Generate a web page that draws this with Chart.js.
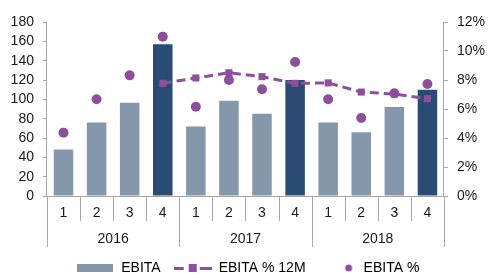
<!DOCTYPE html>
<html>
<head>
<meta charset="utf-8">
<script src="https://cdn.jsdelivr.net/npm/chart.js@4/dist/chart.umd.min.js"></script>
<style>
  html, body { margin: 0; padding: 0; background: #fff; }
  #wrap { width: 489px; height: 274px; }
</style>
</head>
<body>
<div id="wrap"><canvas id="chart"></canvas></div>
<script>
  // ---- data ---------------------------------------------------------------
  const QUARTERS = ["1", "2", "3", "4", "1", "2", "3", "4", "1", "2", "3", "4"];
  const YEARS = ["2016", "2017", "2018"];
  const EBITA = [48, 76, 96.5, 157, 72, 98.5, 85, 120, 76, 66, 92, 110];
  const EBITA_PCT_12M = [null, null, null, 7.77, 8.14, 8.5, 8.23, 7.77, 7.8, 7.17, 7.03, 6.71];
  const EBITA_PCT = [4.37, 6.67, 8.32, 10.99, 6.16, 8.0, 7.36, 9.24, 6.67, 5.38, 7.08, 7.72];
  const LEFT_TICKS = [0, 20, 40, 60, 80, 100, 120, 140, 160, 180];
  const RIGHT_TICKS = [0, 2, 4, 6, 8, 10, 12];

  const BAR_LIGHT = "#8597ab";
  const BAR_DARK = "#294b74";
  const PURPLE = "#8d4f9c";
  const AXIS = "#a6a6a6";
  const FONT = "'Liberation Sans', Arial, sans-serif";

  // Q4 bars are dark
  const barColors = QUARTERS.map((q) => (q === "4" ? BAR_DARK : BAR_LIGHT));

  // ---- legend swatches ------------------------------------------------------
  function swatch(w, h, draw) {
    const c = document.createElement("canvas");
    c.width = w;
    c.height = h;
    draw(c.getContext("2d"));
    return c;
  }
  const swBar = swatch(36, 8, (g) => {
    g.fillStyle = BAR_LIGHT;
    g.fillRect(0, 0, 36, 8);
  });
  const swLine = swatch(38, 8, (g) => {
    g.fillStyle = PURPLE;
    g.fillRect(0, 3, 10, 3);
    g.fillRect(15, 0, 8, 8);
    g.fillRect(26, 3, 12, 3);
  });
  const swDot = swatch(38, 8, (g) => {
    g.fillStyle = PURPLE;
    g.beginPath();
    g.arc(30, 4, 3.5, 0, Math.PI * 2);
    g.fill();
  });
  const SWATCHES = [swBar, swLine, swDot];

  // ---- quarter / year separators under the x axis --------------------------
  const separators = {
    id: "separators",
    afterDraw(chart) {
      const x = chart.scales.x;
      const x2 = chart.scales.x2;
      const area = chart.chartArea;
      const ctx = chart.ctx;
      const n = QUARTERS.length;
      ctx.save();
      ctx.globalAlpha = 1;
      ctx.globalCompositeOperation = "source-over";
      ctx.fillStyle = AXIS;
      for (let i = 0; i <= n; i++) {
        let px;
        if (i === 0) px = area.left;
        else if (i === n) px = area.right;
        else px = (x.getPixelForValue(i - 1) + x.getPixelForValue(i)) / 2;
        // year boundaries run down past the year labels, quarter ones stop short
        const yEnd = i % 4 === 0 ? x2.bottom - 1 : x.bottom - x.options.ticks.padding;
        ctx.fillRect(Math.round(px), Math.round(area.bottom), 1, Math.round(yEnd - area.bottom));
      }
      ctx.restore();
    },
  };

  Chart.defaults.font.family = FONT;
  Chart.defaults.font.size = 14;
  Chart.defaults.color = "#1a1a1a";

  new Chart(document.getElementById("chart"), {
    type: "bar",
    data: {
      labels: QUARTERS,
      datasets: [
        {
          label: "EBITA",
          data: EBITA,
          backgroundColor: barColors,
          barPercentage: 0.59,
          categoryPercentage: 1,
          yAxisID: "y",
          order: 3,
        },
        {
          type: "line",
          label: "EBITA % 12M",
          data: EBITA_PCT_12M,
          borderColor: PURPLE,
          backgroundColor: PURPLE,
          borderWidth: 3,
          borderDash: [9, 5],
          pointStyle: "rect",
          pointRadius: 5,
          pointBorderWidth: 0,
          tension: 0,
          yAxisID: "y1",
          order: 2,
        },
        {
          type: "line",
          label: "EBITA %",
          data: EBITA_PCT,
          showLine: false,
          borderColor: PURPLE,
          backgroundColor: PURPLE,
          pointRadius: 5,
          pointBorderWidth: 0,
          yAxisID: "y1",
          order: 1,
        },
      ],
    },
    options: {
      responsive: true,
      maintainAspectRatio: false,
      animation: false,
      layout: { padding: { top: 22, left: 1.6, right: -5, bottom: -11 } },
      plugins: {
        tooltip: { enabled: false },
        legend: {
          position: "bottom",
          labels: {
            usePointStyle: true,
            pointStyleWidth: 38,
            padding: 13,
            font: { size: 14 },
            generateLabels(chart) {
              return chart.data.datasets.map((ds, i) => ({
                text: ds.label,
                pointStyle: SWATCHES[i],
                fillStyle: PURPLE,
                strokeStyle: PURPLE,
                lineWidth: 0,
                hidden: false,
                datasetIndex: i,
              }));
            },
          },
        },
      },
      scales: {
        x: {
          grid: { display: false, drawTicks: false },
          border: { display: true, color: AXIS },
          ticks: { padding: 8.6, maxRotation: 0, font: { size: 14 } },
        },
        x2: {
          type: "category",
          labels: YEARS,
          position: "bottom",
          grid: { display: false, drawTicks: false },
          border: { display: false },
          ticks: { padding: 0.6, font: { size: 14 } },
        },
        y: {
          position: "left",
          min: 0,
          max: LEFT_TICKS[LEFT_TICKS.length - 1],
          afterBuildTicks: (s) => { s.ticks = LEFT_TICKS.map((v) => ({ value: v })); },
          grid: { drawOnChartArea: false, tickLength: 4, color: AXIS },
          border: { color: AXIS },
          ticks: { padding: 9, autoSkip: false },
        },
        y1: {
          position: "right",
          min: 0,
          max: RIGHT_TICKS[RIGHT_TICKS.length - 1],
          afterBuildTicks: (s) => { s.ticks = RIGHT_TICKS.map((v) => ({ value: v })); },
          grid: { drawOnChartArea: false, tickLength: 4, color: AXIS },
          border: { color: AXIS },
          ticks: { padding: 9, autoSkip: false, callback: (v) => v + "%" },
        },
      },
    },
    plugins: [separators],
  });
</script>
</body>
</html>
